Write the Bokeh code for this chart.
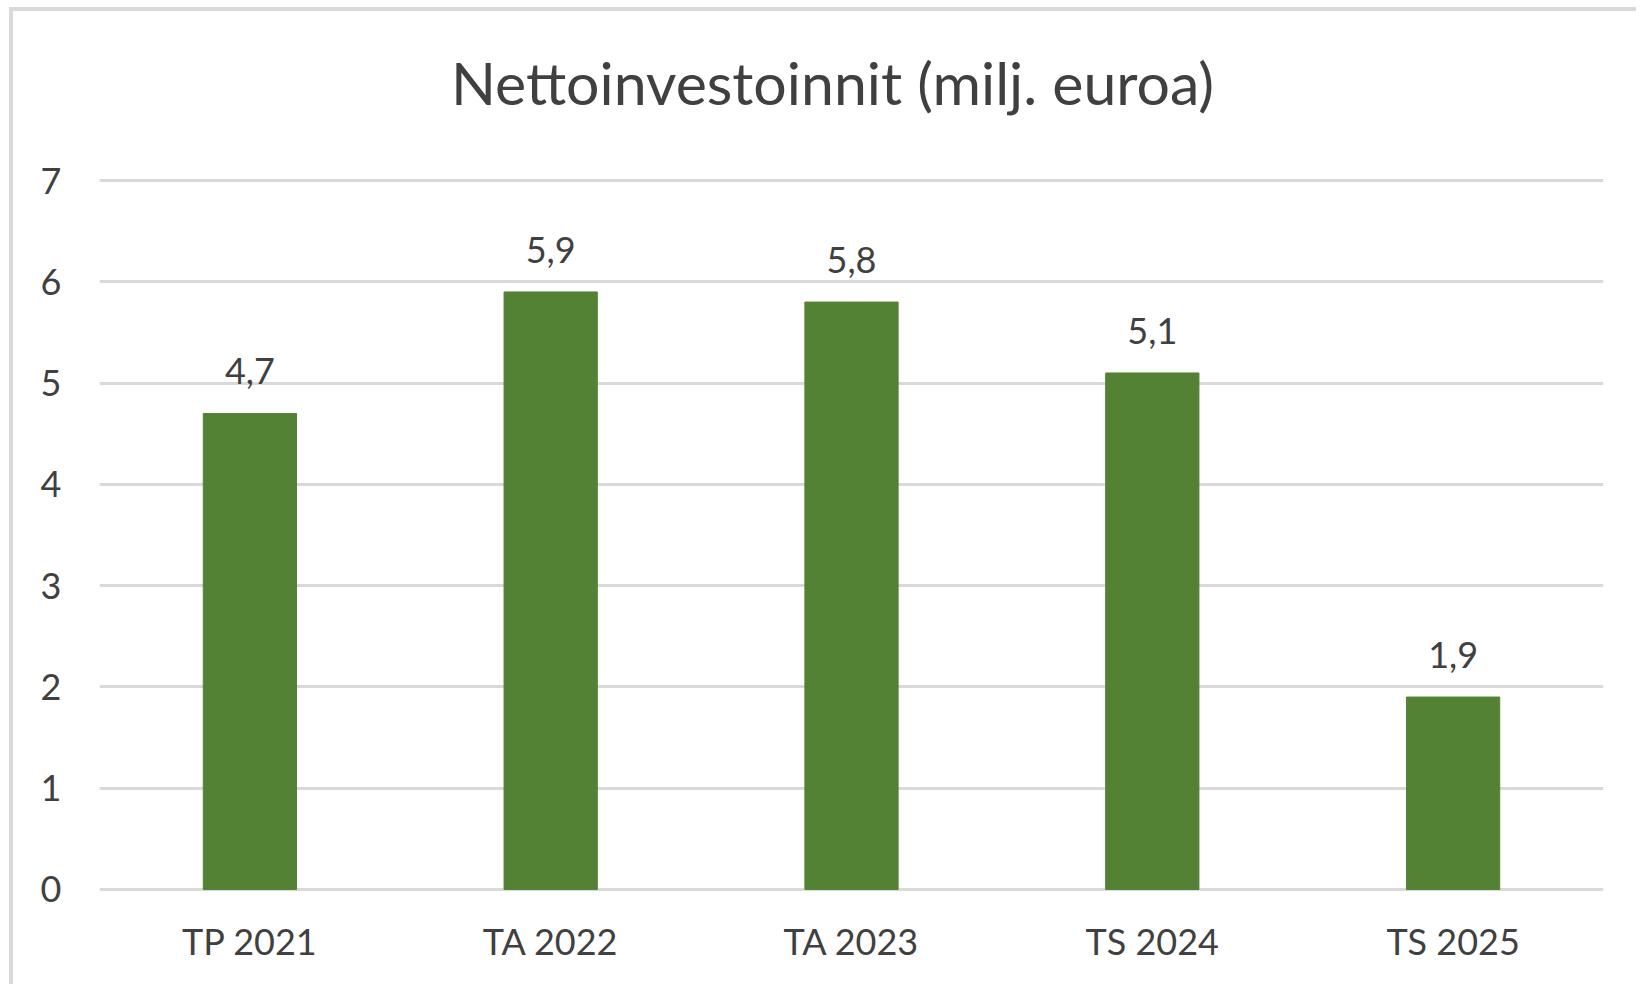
from bokeh.plotting import figure
from bokeh.models import ColumnDataSource, FixedTicker, Range1d, Label
from bokeh.core.properties import value
from bokeh.embed import file_html
from bokeh.resources import INLINE

categories = ["TP 2021", "TA 2022", "TA 2023", "TS 2024", "TS 2025"]
values = [4.7, 5.9, 5.8, 5.1, 1.9]
y_ticks = [0, 1, 2, 3, 4, 5, 6, 7]
title_text = "Nettoinvestoinnit (milj. euroa)"

labels = [f"{v:.1f}".replace(".", ",") for v in values]
src = ColumnDataSource(dict(cat=categories, val=values, lab=labels))

FONT = "Lato"
TXT = "#404040"
GRID = "#d9d9d9"
BAR = "#548235"

p = figure(
    x_range=categories, y_range=Range1d(-0.02, 7.02),
    width=1627, height=977,
    output_backend="svg", toolbar_location=None,
    min_border_left=86, min_border_right=37,
    min_border_top=167, min_border_bottom=97,
)
p.margin = (7, 0, 0, 9)
p.styles = {"border-top": "4px solid #d9d9d9", "border-left": "4px solid #d9d9d9"}

title = Label(x=733, y=96, x_units="screen", y_units="screen",
              text=title_text, text_align="center", text_baseline="alphabetic",
              text_font=FONT, text_font_size="59px", text_color=TXT)
p.add_layout(title, "above")

p.vbar(x="cat", top="val", width=0.31, source=src, color=BAR)
p.text(x="cat", y="val", text="lab", source=src,
       text_align="center", text_baseline="alphabetic", y_offset=-42,
       text_font=value(FONT), text_font_size="36px", text_color=TXT)

p.outline_line_color = None
p.xgrid.grid_line_color = None
p.ygrid.grid_line_color = GRID
p.ygrid.grid_line_width = 3
p.yaxis.ticker = FixedTicker(ticks=y_ticks)

for ax in (p.xaxis[0], p.yaxis[0]):
    ax.axis_line_color = None
    ax.major_tick_line_color = None
    ax.minor_tick_line_color = None
    ax.major_label_text_font = FONT
    ax.major_label_text_font_size = "36px"
    ax.major_label_text_color = TXT
p.yaxis.major_label_standoff = 32
p.xaxis.major_label_standoff = 21

open("out.html", "w").write(file_html(p, INLINE))
